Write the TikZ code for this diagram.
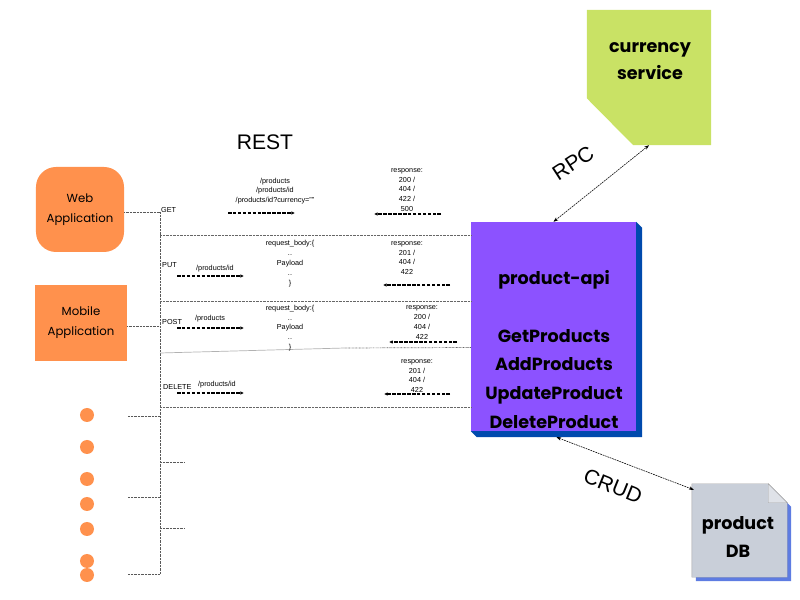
\documentclass[tikz,border=0pt]{standalone}
\usepackage{fontspec}
\setmainfont{Liberation Sans}
\newfontfamily\handfont{Poppins}
\usetikzlibrary{arrows.meta,positioning,shapes.geometric,calc,backgrounds}
\definecolor{appOrange}{HTML}{FF914D}
\definecolor{apiPurple}{HTML}{8C52FF}
\definecolor{apiShadow}{HTML}{004AAD}
\definecolor{svcGreen}{HTML}{C9E265}
\definecolor{dbGray}{HTML}{C9CFD9}
\definecolor{dbShadow}{HTML}{5E7CE2}

\begin{document}
\begin{tikzpicture}[x=0.03cm, y=-0.03cm,
    client/.style={fill=appOrange, align=center, inner sep=0pt, font=\handfont\fontsize{10}{17}\selectfont},
    method/.style={anchor=west, inner sep=0pt, font=\fontsize{6.2}{8.4}\selectfont},
    small/.style={align=center, inner sep=0pt, font=\fontsize{6.2}{8.4}\selectfont},
    bold/.style={align=center, inner sep=0pt, font=\handfont\bfseries\fontsize{15}{24.5}\selectfont},
    proto/.style={inner sep=0pt, font=\fontsize{18}{20}\selectfont},
    req/.style={line width=0.9pt, dash pattern=on 3pt off 1.2pt, -{Latex[length=3pt,width=3pt]}},
    sep/.style={gray!80!black, line width=0.6pt, dash pattern=on 0.6pt off 0.6pt},
    tree/.style={gray!70!black, line width=0.6pt, dash pattern=on 0.6pt off 0.6pt},
    link/.style={line width=0.5pt, dash pattern=on 1.5pt off 0.7pt, {Stealth[length=4pt]}-{Stealth[length=4pt]}}
]
\useasboundingbox (0,0) rectangle (800,600);

% Clients (left)
\node[client, rounded corners=0.6cm, minimum width=2.64cm, minimum height=2.55cm] (web) at (80,209.5) {Web\\Application};
\node[client, minimum width=2.76cm, minimum height=2.28cm] (mobile) at (81,323) {Mobile\\Application};
\foreach \y in {415,447,479,504,529,561,575}
  \fill[appOrange] (87,\y) circle (0.21cm);

% Tree of client connections
\coordinate (trunktop) at (160,212);
\coordinate (trunkbot) at (160,574);
\draw[tree] (trunktop) -- (trunkbot);
\draw[tree] (web.east |- trunktop) -- (trunktop);
\draw[tree] (mobile.east |- 0,326) -- (trunktop |- 0,326);
\foreach \y in {416,497,574}
  \draw[tree] (128,\y) -- (trunktop |- 0,\y);
\foreach \y in {462,528}
  \draw[tree] (trunktop |- 0,\y) -- (185,\y);

% product-api service
\node[fill=apiPurple, minimum width=4.95cm, minimum height=6.27cm, inner sep=0pt] (api) at (553.5,326.5) {};
\begin{scope}[on background layer]
  \fill[apiShadow] (api.north east) -- ++(6,6) |- ($(api.south west)+(6,6)$) -- (api.south west) -- cycle;
\end{scope}
\node[bold] (apitext) at (554,349.5) {product-api\\[24.5pt]GetProducts\\AddProducts\\UpdateProduct\\DeleteProduct};

% Separators between the methods
\draw[sep] (trunktop |- 0,235) -- (api.west |- 0,235);
\draw[sep] (trunktop |- 0,301) -- (api.west |- 0,301);
\draw[gray!60, line width=0.6pt] (trunktop |- 0,353) -- (345,348);
\draw[sep] (345,348) -- (api.west |- 0,347.5);
\draw[sep] (trunktop |- 0,407) -- (api.west |- 0,407);

\node[proto] (rest) at (265,142) {REST};

% GET
\node[method] (get) at (161,210) {GET};
\node[small] (getpath) at (275,191) {/products\\/products/id\\/products/id?currency=""};
\node[small] (getresp) at (407,190) {response:\\200 /\\404 /\\422 /\\500};
\coordinate (getreqA) at (228,213);
\coordinate (getreqB) at (295,213);
\coordinate (getresA) at (441,214);
\coordinate (getresB) at (374,214);
\draw[req] (getreqA) -- (getreqB);
\draw[req] (getresA) -- (getresB);

% PUT
\node[method] (put) at (162,265) {PUT};
\node[small] (putpath) at (215,269) {/products/id};
\node[small] (putbody) at (290,263.5) {request\_body:\{\\..\\Payload\\..\\\}};
\node[small] (putresp) at (407,258) {response:\\201 /\\404 /\\422};
\coordinate (putreqA) at (177,276);
\coordinate (putreqB) at (244,276);
\coordinate (putresA) at (450,285);
\coordinate (putresB) at (383,285);
\draw[req] (putreqA) -- (putreqB);
\draw[req] (putresA) -- (putresB);

% POST
\node[method] (post) at (162,322) {POST};
\node[small] (postpath) at (210,319) {/products};
\node[small] (postbody) at (290,328) {request\_body:\{\\..\\Payload\\..\\\}};
\node[small] (postresp) at (422,322.5) {response:\\200 /\\404 /\\422};
\coordinate (postreqA) at (177,328);
\coordinate (postreqB) at (244,328);
\coordinate (postresA) at (457,342);
\coordinate (postresB) at (389,342);
\draw[req] (postreqA) -- (postreqB);
\draw[req] (postresA) -- (postresB);

% DELETE
\node[method] (delete) at (163,387) {DELETE};
\node[small] (delpath) at (217,385) {/products/id};
\node[small] (delresp) at (417,376) {response:\\201 /\\404 /\\422};
\coordinate (delreqA) at (177,393);
\coordinate (delreqB) at (244,393);
\coordinate (delresA) at (450,394);
\coordinate (delresB) at (384,394);
\draw[req] (delreqA) -- (delreqB);
\draw[req] (delresA) -- (delresB);

% currency service (top right)
\node[minimum width=3.72cm, minimum height=4.05cm, inner sep=0pt] (svc) at (649,77.5) {};
\fill[svcGreen] (svc.north west) -- (svc.north east) -- (svc.south east) -- ++(-78,0) -- ($(svc.south west)+(0,-47)$) -- cycle;
\node[bold, font=\handfont\bfseries\fontsize{15}{23}\selectfont] (svctext) at (650,61) {currency\\service};

% product DB (bottom right)
\node[minimum width=2.85cm, minimum height=2.79cm, inner sep=0pt] (db) at (739.5,530.5) {};
\fill[dbShadow] ($(db.north west)+(4,4)$) -- ($(db.north east)+(-15,4)$) -- ($(db.north east)+(4,23)$) -- ($(db.south east)+(4,4)$) -- ($(db.south west)+(4,4)$) -- cycle;
\filldraw[fill=dbGray, draw=gray!70] (db.north west) -- ($(db.north east)+(-19,0)$) -- ($(db.north east)+(0,19)$) -- (db.south east) -- (db.south west) -- cycle;
\filldraw[fill=dbGray!60!white, draw=gray!70] ($(db.north east)+(-19,0)$) -- ($(db.north east)+(-19,19)$) -- ($(db.north east)+(0,19)$) -- cycle;
\node[bold] (dbtext) at (738,537) {product\\DB};

% Links
\draw[link] (api.north) -- (svc.south);
\node[proto, rotate=33] (rpc) at (573,163) {RPC};
\draw[link] ($(api.south)+(3,6)$) -- ($(db.north west)+(2,6)$);
\node[proto, rotate=-22] (crud) at (613,486) {CRUD};

\end{tikzpicture}
\end{document}
